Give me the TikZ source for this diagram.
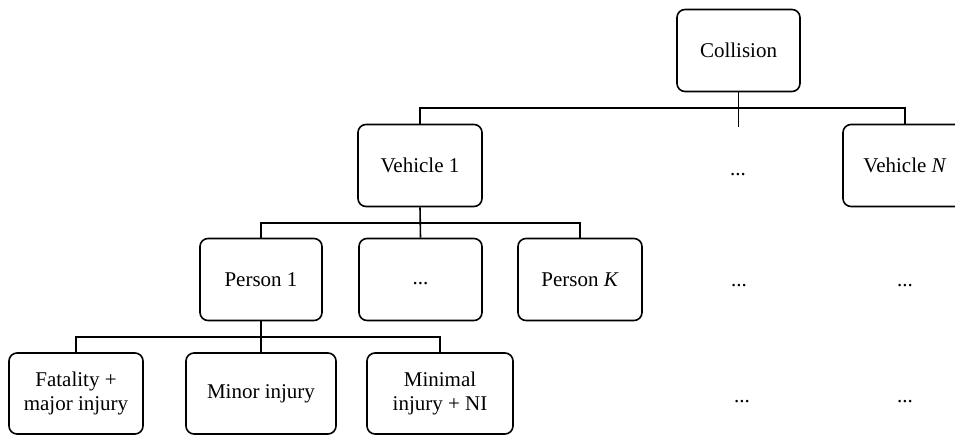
\documentclass[tikz,border=0pt]{standalone}
\usepackage{fontspec}
\setmainfont{Liberation Serif}
\begin{document}
\begin{tikzpicture}[x=1pt,y=-1pt,
  box/.style={draw=black, line width=1.6pt, rounded corners=8pt, minimum height=82pt, align=center, inner sep=2pt, font=\fontsize{21}{24}\selectfont},
  plain/.style={inner sep=0pt, font=\fontsize{21}{24}\selectfont},
  conn/.style={draw=black, line width=1.6pt}]
\useasboundingbox (0,0) rectangle (955,435);
% level 0
\node[box, minimum width=123pt] (coll) at (738.5,50.5) {Collision};
% level 1
\node[box, minimum width=124pt] (v1) at (420,165.5) {Vehicle 1};
\node[plain] (vdots) at (738,174.5) {...};
\node[box, minimum width=124pt] (vN) at (905,165.5) {Vehicle \textit{N}};
% level 2
\node[box, minimum width=122pt] (p1) at (261,279.5) {Person 1};
\node[box, minimum width=123pt] (pd) at (420.5,279.5) {\strut...};
\node[box, minimum width=124pt] (pK) at (580,279.5) {Person \textit{K}};
\node[plain] (d21) at (739,285.5) {...};
\node[plain] (d22) at (905,285.5) {...};
% level 3
\node[box, minimum width=134pt, minimum height=81pt] (fat) at (76,393.5) {Fatality +\\major injury};
\node[box, minimum width=150pt, minimum height=81pt] (minor) at (261,393.5) {Minor injury};
\node[box, minimum width=146pt, minimum height=81pt] (minimal) at (440,393.5) {Minimal\\injury + NI};
\node[plain] (d31) at (742,401.5) {...};
\node[plain] (d32) at (905,401.5) {...};
% connectors
\coordinate (j1) at (738.5,108);
\coordinate (stub) at (738.5,127.5);
\draw[conn] (coll.south) -- (stub);
\draw[conn] (v1.north) |- (j1) -| (vN.north);
\coordinate (j2) at (420,223);
\draw[conn] (v1.south) -- (pd.north);
\draw[conn] (p1.north) |- (j2) -| (pK.north);
\coordinate (j3) at (261,337);
\draw[conn] (p1.south) -- (minor.north);
\draw[conn] (fat.north) |- (j3) -| (minimal.north);
\end{tikzpicture}
\end{document}
